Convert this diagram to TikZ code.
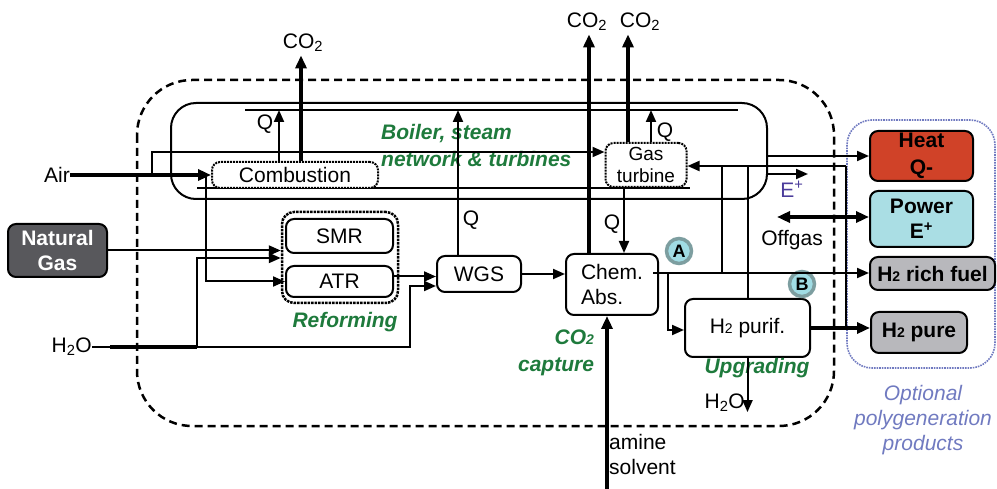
\documentclass[tikz,border=0pt]{standalone}
\usepackage{fontspec}
\setmainfont{Liberation Sans}
\usepackage{tikz}
\usetikzlibrary{positioning, arrows.meta, calc}
\definecolor{AreaGreen}{RGB}{30, 122, 60}
\definecolor{HeatRed}{RGB}{208, 66, 40}
\definecolor{PowerCyan}{RGB}{170, 222, 228}
\definecolor{ProductGray}{RGB}{184, 184, 188}
\definecolor{GasGray}{RGB}{88, 88, 92}
\definecolor{PolyBlue}{RGB}{112, 122, 192}
\definecolor{EPurple}{RGB}{75, 60, 155}
\definecolor{MarkRing}{RGB}{125, 158, 160}
\definecolor{MarkFill}{RGB}{160, 220, 228}
\newcommand{\flowsize}{\fontsize{21}{25}\selectfont}
\newcommand{\smalltwo}{{\fontsize{14}{14}\selectfont 2}}

\begin{document}
\begin{tikzpicture}[x=1pt, y=-1pt, font=\flowsize,
    box/.style={draw, line width=2pt, rounded corners=8pt, align=center, inner sep=0pt},
    dotbox/.style={box, densely dotted},
    prodbox/.style={box, font=\flowsize\bfseries},
    line/.style={line width=2pt},
    flow/.style={line width=2pt, -{Triangle[length=12pt, width=10pt]}},
    bigflow/.style={line width=3.5pt, -{Triangle[length=13pt, width=11pt]}},
    areatext/.style={text=AreaGreen, font=\flowsize\bfseries\itshape, inner sep=0pt},
    marker/.style={circle, draw=MarkRing, line width=3.5pt, fill=MarkFill, font=\fontsize{18}{18}\selectfont\bfseries, inner sep=0pt, minimum size=25pt}]
    \useasboundingbox (0,0) rectangle (997,489);

    % Plant boundary and boiler
    \draw[line width=2.5pt, dash pattern=on 8pt off 5pt, rounded corners=55pt] (137,80) rectangle (834,426);
    \draw[line width=2pt, rounded corners=25pt] (171,103) rectangle (767,199);
    \coordinate (stl) at (245,110);
    \coordinate (str) at (738,110);
    \draw[line] (stl) -- (str);
    \coordinate (sbl) at (197,188);
    \coordinate (sbr) at (690,188);
    \draw[line] (sbl) -- (sbr);
    \draw[PolyBlue, densely dotted, line width=1.6pt, rounded corners=25pt] (847,120) rectangle (995,368);

    % Units
    \node[dotbox, minimum width=166pt, minimum height=26pt, fill=white] (comb) at (295,175) {Combustion};
    \node[dotbox, minimum width=81pt, minimum height=44pt, fill=white, font=\fontsize{19}{22}\selectfont] (gt) at (646,165) {Gas\\turbine};
    \node[draw, line width=2.5pt, densely dotted, rounded corners=12pt, minimum width=116pt, minimum height=91pt] (refgrp) at (340,257.5) {};
    \node[box, minimum width=107pt, minimum height=34pt] (smr) at (339.5,236) {SMR};
    \node[box, minimum width=107pt, minimum height=31pt] (atr) at (339.5,281.5) {ATR};
    \node[box, minimum width=84pt, minimum height=36pt] (wgs) at (479,274) {WGS};
    \node[box, minimum width=92pt, minimum height=61pt, align=left] (chem) at (612,284.5) {Chem.\\Abs.};
    \node[box, minimum width=125pt, minimum height=58pt] (purif) at (747.5,328) {H\smalltwo{} purif.};

    % Feeds
    \node[box, fill=GasGray, text=white, font=\flowsize\bfseries, minimum width=99pt, minimum height=53pt] (ng) at (57.5,250.5) {Natural\\Gas};
    \node[inner sep=0pt] (air) at (57,175) {Air};
    \node[anchor=east, inner sep=0pt] (h2oin) at (92,347) {H\textsubscript{2}O};
    \node[anchor=north west, align=left, inner sep=0pt] (amine) at (609,434) {amine\\solvent};

    % Products
    \node[prodbox, fill=HeatRed, minimum width=103pt, minimum height=50pt, font=\fontsize{21}{27}\selectfont\bfseries] (heat) at (921.5,156) {Heat\\Q-};
    \node[prodbox, fill=PowerCyan, minimum width=103pt, minimum height=56pt] (power) at (921.5,219) {Power\\E\textsuperscript{+}};
    \node[prodbox, fill=ProductGray, minimum width=125pt, minimum height=33pt] (rich) at (932.5,273.5) {H\smalltwo{} rich fuel};
    \node[prodbox, fill=ProductGray, minimum width=96pt, minimum height=41pt] (pure) at (919,332.5) {H\smalltwo{} pure};
    \node[text=PolyBlue, font=\flowsize\itshape, align=center] (poly) at (923,420) {Optional\\polygeneration\\products};

    % Stream labels
    \node (co2a) at (303,43) {CO\textsubscript{2}};
    \node (co2b) at (587,22) {CO\textsubscript{2}};
    \node (co2c) at (640,22) {CO\textsubscript{2}};
    \node[inner sep=0pt] (qcomb) at (265,124) {Q};
    \node[inner sep=0pt] (qwgs) at (471,220) {Q};
    \node[inner sep=0pt] (qgtup) at (665,132) {Q};
    \node[inner sep=0pt] (qgtdn) at (612,224) {Q};
    \node[inner sep=0pt, text=EPurple] (eplus) at (792,189) {E\textsuperscript{+}};
    \node[inner sep=0pt] (offgas) at (792,240) {Offgas};
    \node[anchor=east, inner sep=0pt] (h2oout) at (745,403) {H\textsubscript{2}O};

    % Area labels
    \node[areatext, anchor=north west, align=left, font=\fontsize{21}{27}\selectfont\bfseries\itshape] (boiler) at (381,124) {Boiler, steam\\network \& turbines};
    \node[areatext] (reform) at (345,322) {Reforming};
    \node[areatext, align=right, font=\fontsize{21}{27}\selectfont\bfseries\itshape] (capture) at (556,353) {CO\smalltwo\\capture};
    \node[areatext] (upgrade) at (757,368) {Upgrading};
    \node[marker] (ma) at (679,251) {A};
    \node[marker] (mb) at (802,284) {B};

    % Combustion air and heat
    \draw[bigflow] (air.east) -- (comb.west);
    \coordinate (airup) at (152,175);
    \draw[flow] (airup) |- ([yshift=13pt]gt.west);
    \coordinate (airdown) at (206,175);
    \draw[flow] (airdown) |- (atr.west);
    \draw[flow] ([xshift=-16pt]comb.north) -- ([xshift=-16pt]comb.north |- stl);
    \draw[bigflow] ([xshift=6pt]comb.north) -- ([xshift=6pt]comb.north |- co2a.south);

    % Reforming feeds
    \draw[flow] (ng.east) -- (ng.east -| refgrp.west);
    \coordinate (h2othick) at (110,347);
    \coordinate (h2osplit) at (197,347);
    \coordinate (h2oturn) at (410,347);
    \draw[line] (h2oin.east) -- (h2othick);
    \draw[line width=3.5pt] (h2othick) -- (h2osplit);
    \draw[flow] (h2osplit) |- ([yshift=-0.5pt]refgrp.west);
    \draw[flow] (h2osplit) -- (h2oturn) |- ([yshift=-12pt]wgs.west);
    \draw[flow] ([yshift=5pt]atr.east) -- ([yshift=5pt]atr.east -| wgs.west);

    % Shift and capture
    \draw[flow] ([xshift=-21pt]wgs.north) -- ([xshift=-21pt]wgs.north |- stl);
    \draw[flow] (wgs.east) -- (wgs.east -| chem.west);
    \draw[bigflow] ([xshift=-23pt]chem.north) -- ([xshift=-23pt]chem.north |- co2b.south);
    \coordinate (aminesrc) at (607,489);
    \draw[bigflow] (aminesrc) -- (aminesrc |- chem.south);

    % Gas turbine
    \draw[bigflow] ([xshift=-18pt]gt.north) -- ([xshift=-18pt]gt.north |- co2c.south);
    \draw[flow] ([xshift=5pt]gt.north) -- ([xshift=5pt]gt.north |- stl);
    \draw[flow] ([xshift=-22pt]gt.south) -- ([xshift=-22pt]gt.south |- chem.north);

    % Upgrading and offgas
    \coordinate (richstart) at (653,273);
    \coordinate (chemsplit) at (668,273);
    \draw[flow] (richstart) -- (richstart -| rich.west);
    \draw[flow] (chemsplit) |- ([yshift=-2pt]purif.west);
    \draw[bigflow] (purif.east) -- (purif.east -| pure.west);
    \draw[flow] (purif.south) -- (purif.south |- h2oout.south);
    \coordinate (ogr) at (846,166);
    \coordinate (oga) at (722,166);
    \coordinate (ogb) at (748,166);
    \draw[flow] (ogr) -- (ogr -| gt.east);
    \draw[line] (ogr) -- (ogr |- purif.east);
    \draw[line] (oga) -- (oga |- richstart);
    \draw[line] (ogb) -- (ogb |- purif.north);

    % Polygeneration outputs
    \coordinate (heatsrc) at (767,156);
    \draw[flow] (heatsrc) -- (heatsrc -| heat.west);
    \coordinate (esrc) at (767,174);
    \coordinate (etip) at (808,174);
    \draw[flow] (esrc) -- (etip);
    \coordinate (offgasend) at (777,217);
    \draw[line width=3.5pt, {Triangle[length=13pt, width=11pt]}-{Triangle[length=13pt, width=11pt]}] (offgasend) -- (offgasend -| power.west);
  \end{tikzpicture}
\end{document}
